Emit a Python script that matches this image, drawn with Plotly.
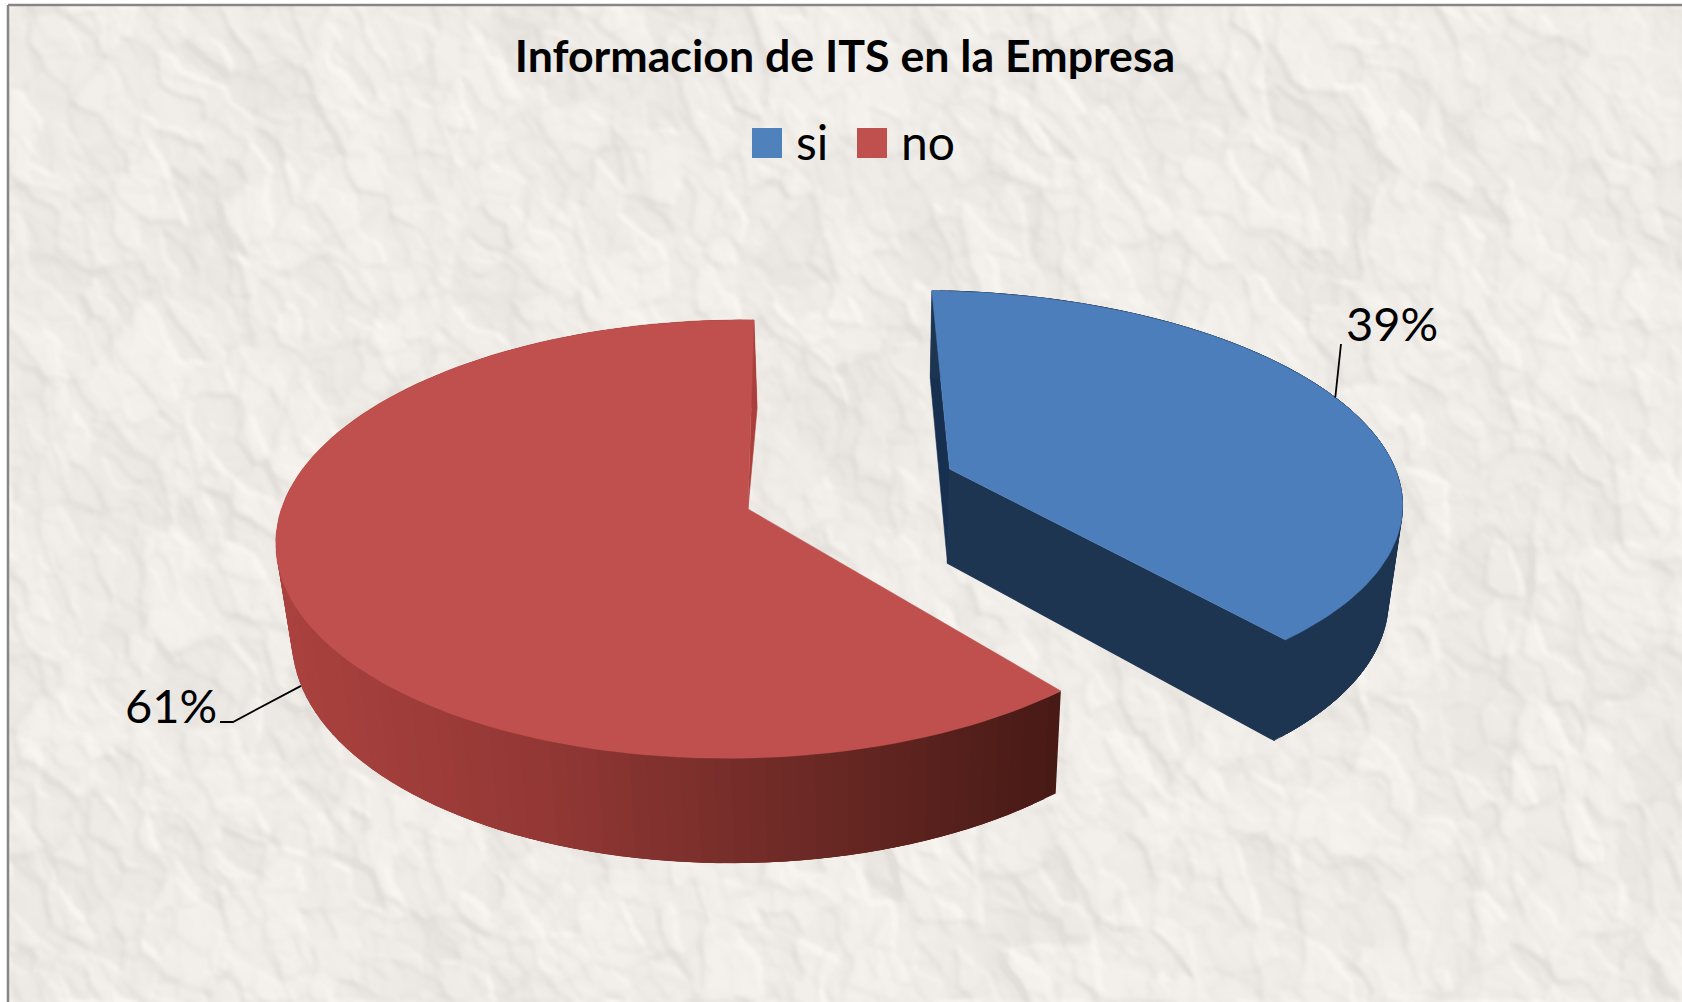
import base64
import struct
import zlib

import numpy as np
import plotly.graph_objects as go

# values
SLICE_LABELS = ["si", "no"]
SLICE_SHARES = [39, 61]
SLICE_TEXT = ["39%", "61%"]
TITLE = "Informacion de ITS en la Empresa"

W, H = 1682, 1002
FONT = "Lato, 'Open Sans', sans-serif"
BLUE_TOP, BLUE_SIDE = "#4c7ebb", "#1e3552"
RED_TOP, RED_INNER = "#c0504d", "#ab3f3c"

# perspective of the pie floor, fitted to the picture (pixels)
CX, CY = 748, 509
AX, BY, SKEW = 455, 215, 6.8
KY, MX = 0.137, 0.025
# bottom rim
DEPTH, DEPTH_K, SHRINK, VX = 94, 0.038, 0.027, 870
# explosion of the "si" slice in disc units, and its sideways stretch
OFFSETS = {"si": (0.457, 0.193), "no": (0.0, 0.0)}
X_STRETCH = {"si": 1.055, "no": 1.0}


def project(x, y):
    w = 1 + KY * y + MX * x
    return CX + (AX * x + SKEW * y) / w, CY - BY * y / w


def drop(sx, sy):
    return sx - SHRINK * (sx - VX), sy + DEPTH + DEPTH_K * (sy - 468)


def rim(theta, label):
    ox, oy = OFFSETS[label]
    return project(ox + X_STRETCH[label] * np.sin(theta), oy + np.cos(theta))


def hash_(a, b, seed):
    v = np.sin(a * 12.9898 + b * 78.233 + seed * 37.719) * 43758.5453
    return v - np.floor(v)


def value_noise(px, py, cell, seed):
    gx, gy = px / cell, py / cell
    ix, iy = np.floor(gx), np.floor(gy)
    fx, fy = gx - ix, gy - iy
    fx, fy = fx * fx * (3 - 2 * fx), fy * fy * (3 - 2 * fy)
    top = hash_(ix, iy, seed) * (1 - fx) + hash_(ix + 1, iy, seed) * fx
    bot = hash_(ix, iy + 1, seed) * (1 - fx) + hash_(ix + 1, iy + 1, seed) * fx
    return top * (1 - fy) + bot * fy


def facets(u, v, seed):
    # cellular pattern: flat shade per facet plus a crease where facets meet
    iu, iv = np.floor(u), np.floor(v)
    f1 = np.full(u.shape, 1e9)
    f2 = np.full(u.shape, 1e9)
    shade = np.zeros(u.shape)
    for du in range(-2, 3):
        for dv in range(-2, 3):
            cu, cv = iu + du, iv + dv
            d = (u - cu - hash_(cu, cv, seed)) ** 2 + (v - cv - hash_(cu, cv, seed + 1)) ** 2
            near = d < f1
            f2 = np.where(near, f1, np.minimum(f2, d))
            f1 = np.where(near, d, f1)
            shade = np.where(near, hash_(cu, cv, seed + 2), shade)
    return shade, np.exp(-(np.sqrt(f2) - np.sqrt(f1)) / 0.07)


def blur(a, n):
    for _ in range(n):
        a = (a + np.roll(a, 1, 0) + np.roll(a, -1, 0) + np.roll(a, 1, 1) + np.roll(a, -1, 1)) / 5
    return a


def paper_texture():
    # decoration only: crumpled paper behind the chart
    tw, th = W // 2, H // 2
    yy, xx = np.mgrid[0:th, 0:tw].astype(float)
    wx = xx + 12 * (value_noise(xx, yy, 38, 11) - 0.5) + 5 * (value_noise(xx, yy, 12, 12) - 0.5)
    wy = yy + 12 * (value_noise(xx, yy, 38, 13) - 0.5) + 5 * (value_noise(xx, yy, 12, 14) - 0.5)
    # creases run mostly from upper left to lower right
    ang = np.radians(62)
    a = wx * np.cos(ang) + wy * np.sin(ang)
    b = -wx * np.sin(ang) + wy * np.cos(ang)

    s1, c1 = facets(a / 44, b / 27, 3)
    s2, c2 = facets(a / 20, b / 12, 5)
    s3, c3 = facets(a / 10, b / 7, 7)
    height = 0.7 * blur(s1, 3) + 0.7 * blur(s2, 2) + 0.3 * blur(s3, 1)
    gy, gx = np.gradient(height)
    relief = (gx - gy) / 0.12
    dark = 0.34 * blur(s1, 4) ** 2 + 0.30 * blur(s2, 3) ** 2
    dark += 0.30 * blur(c1, 1) + 0.24 * blur(c2, 1) + 0.08 * blur(c3, 1) - 0.26 * relief
    dark = np.clip(blur(dark, 1), -0.2, 1)

    light = np.array([245.0, 242.0, 238.0])
    shadow = np.array([226.0, 223.0, 219.0])
    img = np.empty((th, tw, 3), dtype=np.uint8)
    for c in range(3):
        img[..., c] = np.clip(light[c] + (shadow[c] - light[c]) * dark, 0, 255).astype(np.uint8)
    raw = b"".join(b"\x00" + img[r].tobytes() for r in range(th))

    def chunk(tag, data):
        return struct.pack(">I", len(data)) + tag + data + struct.pack(">I", zlib.crc32(tag + data))

    png = (b"\x89PNG\r\n\x1a\n"
           + chunk(b"IHDR", struct.pack(">IIBBBBB", tw, th, 8, 2, 0, 0, 0))
           + chunk(b"IDAT", zlib.compress(raw, 9))
           + chunk(b"IEND", b""))
    return "data:image/png;base64," + base64.b64encode(png).decode()


def polygon(fig, xs, ys, color, width=0.6):
    fig.add_trace(go.Scatter(
        x=list(xs), y=list(ys), mode="lines", fill="toself", fillcolor=color,
        line=dict(color=color, width=width), hoverinfo="skip", showlegend=False,
    ))


def wall_color(label, sx):
    if label == "si":
        return BLUE_SIDE
    stops = [277, 540, 800, 1060]
    r = np.interp(sx, stops, [170, 148, 110, 72])
    g = np.interp(sx, stops, [66, 56, 42, 26])
    b = np.interp(sx, stops, [63, 53, 38, 22])
    return f"rgb({r:.0f},{g:.0f},{b:.0f})"


total = sum(SLICE_SHARES)
fracs = np.cumsum([0] + SLICE_SHARES) / total * 2 * np.pi

fig = go.Figure()
anchors = {}
for i, label in enumerate(SLICE_LABELS):
    t0, t1 = fracs[i], fracs[i + 1]
    thetas = np.linspace(t0, t1, 120)
    sx, sy = rim(thetas, label)
    ax, ay = project(*OFFSETS[label])
    bx, by = drop(sx, sy)
    apx, apy = drop(ax, ay)

    if label == "si":
        polygon(fig, [sx[0], bx[0], apx, ax], [sy[0], by[0], apy, ay], "#17304f")

    # outer wall in overlapping strips so the shading runs along it
    for j in range(0, len(thetas) - 3):
        polygon(fig,
                [sx[j], sx[j + 3], bx[j + 3], bx[j]],
                [sy[j], sy[j + 3], by[j + 3], by[j]],
                wall_color(label, sx[j]), width=0.8 if label == "si" else 0)

    if label == "si":
        polygon(fig, [ax, apx, bx[-1], sx[-1]], [ay, apy, by[-1], sy[-1]], BLUE_SIDE, width=1.2)
    else:
        polygon(fig, [sx[-1], bx[-1], ax], [sy[-1], by[-1], ay], RED_INNER)

    # top face
    polygon(fig, [ax, *sx, ax], [ay, *sy, ay], BLUE_TOP if label == "si" else RED_TOP)

    anchors[label] = (t0 + t1) / 2

# leader lines start on the rim near the middle of each slice
mx, my = rim(anchors["si"] - 0.05, "si")
fig.add_trace(go.Scatter(x=[mx, 1341], y=[my, 344], mode="lines",
                         line=dict(color="black", width=1.8), hoverinfo="skip", showlegend=False))
mx, my = drop(*rim(anchors["no"], "no"))
fig.add_trace(go.Scatter(x=[mx, 233, 220], y=[my, 722, 722], mode="lines",
                         line=dict(color="black", width=1.8), hoverinfo="skip", showlegend=False))

annotations = [
    dict(x=1392, y=323, text=SLICE_TEXT[0], showarrow=False, font=dict(family=FONT, size=47, color="black")),
    dict(x=171, y=705, text=SLICE_TEXT[1], showarrow=False, font=dict(family=FONT, size=47, color="black")),
    dict(x=794, y=141, text=SLICE_LABELS[0], xanchor="left", showarrow=False,
         font=dict(family=FONT, size=48, color="black")),
    dict(x=899, y=141, text=SLICE_LABELS[1], xanchor="left", showarrow=False,
         font=dict(family=FONT, size=48, color="black")),
]
shapes = [
    dict(type="rect", x0=752, x1=782, y0=128, y1=158, fillcolor="#4f81bd", line_width=0),
    dict(type="rect", x0=857, x1=887, y0=128, y1=158, fillcolor=RED_TOP, line_width=0),
    dict(type="line", x0=8, x1=8, y0=5, y1=H, line=dict(color="#868686", width=2.5)),
    dict(type="line", x0=8, x1=W, y0=5, y1=5, line=dict(color="#868686", width=2.5)),
]

fig.update_layout(
    width=W, height=H,
    margin=dict(l=0, r=0, t=0, b=0),
    paper_bgcolor="white", plot_bgcolor="rgba(0,0,0,0)",
    showlegend=False,
    title=dict(text=f"<b>{TITLE}</b>", x=845 / W, y=1 - 56 / H, xanchor="center", yanchor="middle",
               font=dict(family=FONT, size=44.7, color="black")),
    xaxis=dict(range=[0, W], visible=False, fixedrange=True),
    yaxis=dict(range=[H, 0], visible=False, fixedrange=True),
    annotations=annotations,
    shapes=shapes,
    images=[dict(source=paper_texture(), xref="x", yref="y", x=8, y=5, sizex=W - 8, sizey=H - 5,
                 sizing="stretch", layer="below", xanchor="left", yanchor="top")],
)

fig.write_html("out.html", config={"displayModeBar": False},
               post_script="document.body.style.margin='0';")
